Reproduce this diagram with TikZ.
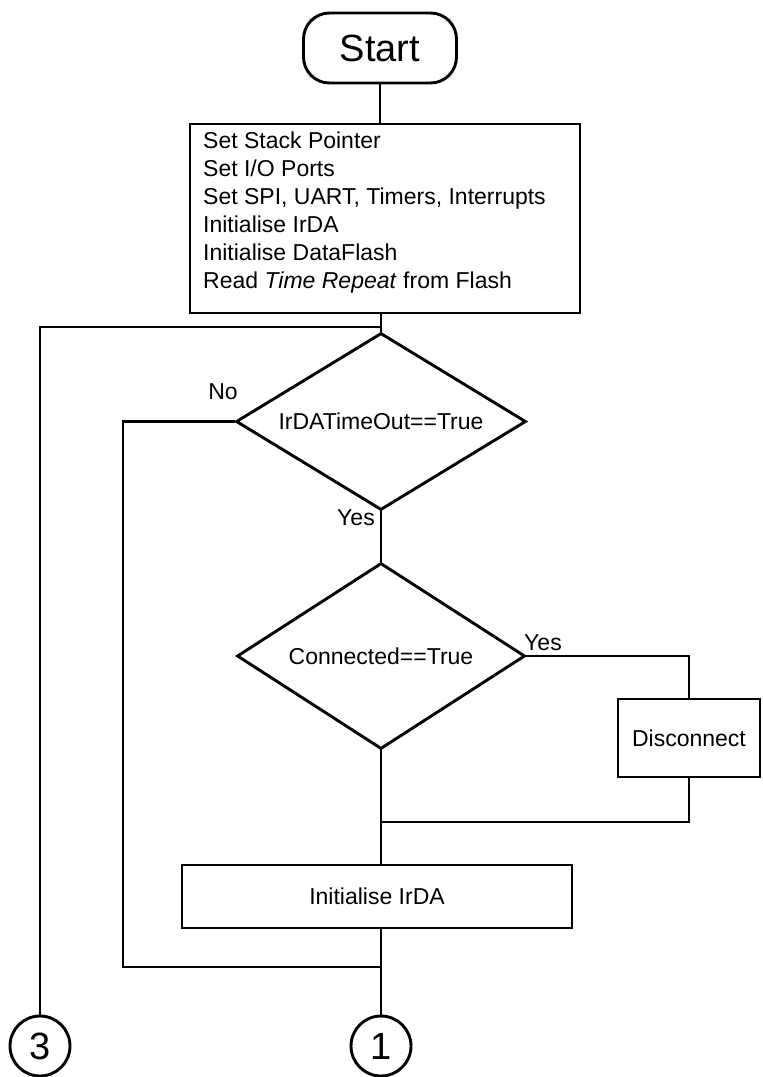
\documentclass[tikz,border=0pt]{standalone}
\usepackage{fontspec}
\setmainfont{Liberation Sans}
\usetikzlibrary{shapes.geometric}
\begin{document}
\begin{tikzpicture}[x=1pt,y=-1pt,
  txt/.style={font=\fontsize{23}{28}\selectfont, inner sep=0pt},
  flow/.style={line width=2.9pt},
  startbox/.style={draw, line width=2.9pt, rectangle, rounded corners=26pt, minimum width=153pt, minimum height=70pt, inner sep=0pt, font=\fontsize{38}{40}\selectfont},
  procbox/.style={draw, line width=2.9pt, rectangle, inner sep=0pt, txt},
  decision/.style={draw, diamond, aspect=1.64, inner sep=0pt, line width=2.9pt, txt},
  connector/.style={draw, circle, minimum size=60pt, inner sep=0pt, line width=2.9pt, font=\fontsize{38}{40}\selectfont}
]
\useasboundingbox (0,0) rectangle (763,1077);

\node[startbox] (start) at (380,48) {Start};
\node[procbox, minimum width=390pt, minimum height=189pt] (init) at (385,218.5) {};
\node[txt, anchor=west, align=left] (inittext) at (203,213) {Set Stack Pointer\\Set I/O Ports\\Set SPI, UART, Timers, Interrupts\\Initialise IrDA\\Initialise DataFlash\\Read \textit{Time Repeat} from Flash};
\coordinate (j1) at (381,327);
\node[connector] (c3) at (40,1046) {3};
\node[decision, minimum width=290pt, minimum height=177pt] (d1) at (381,421.5) {IrDATimeOut==True};
\node[txt] (nolabel) at (223,392) {No};
\node[txt] (yes1) at (356,518) {Yes};
\node[decision, minimum width=288pt, minimum height=186pt] (d2) at (381,656) {Connected==True};
\node[txt] (yes2) at (543,643) {Yes};
\node[procbox, minimum width=142pt, minimum height=78pt] (disc) at (689,738) {Disconnect};
\coordinate (j2) at (381,822);
\node[procbox, minimum width=390pt, minimum height=63pt] (ini2) at (377,896.5) {Initialise IrDA};
\coordinate (j3) at (381,967);
\coordinate (lp) at (123,967);
\node[connector] (c1) at (381,1046) {1};

\draw[flow] (start.south) -- (start.south |- init.north);
\draw[flow] (j1 |- init.south) -- (j1);
\draw[flow] (j1) -- (j1 -| c3) -- (c3.north);
\draw[flow] (j1) -- (d1.north);
\draw[flow] (d1.south) -- (d2.north);
\draw[flow] (d2.east) -| (disc.north);
\draw[flow] (disc.south) |- (j2);
\draw[flow] (d2.south) -- (d2.south |- ini2.north);
\draw[flow] (ini2.south -| j3) -- (j3) -- (c1.north);
\draw[flow] (d1.west) -| (lp) -- (j3);
\end{tikzpicture}
\end{document}
